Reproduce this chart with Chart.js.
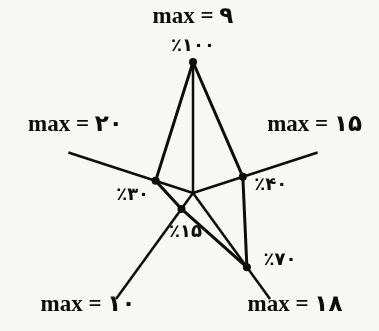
<!DOCTYPE html>
<html>
<head>
<meta charset="utf-8">
<script src="https://cdn.jsdelivr.net/npm/chart.js@4/dist/chart.umd.min.js"></script>
<style>
  html, body { margin: 0; padding: 0; background: #f7f7f5; }
  #wrap { width: 379px; height: 331px; }
</style>
</head>
<body>
<div id="wrap"><canvas id="radar" width="379" height="331"></canvas></div>
<script>
// axes, clockwise from the top
var axisLabels = ['max = ۹', 'max = ۱۵', 'max = ۱۸', 'max = ۱۰', 'max = ۲۰']
var percents = [100, 40, 70, 15, 30]
var percentLabels = ['٪۱۰۰', '٪۴۰', '٪۷۰', '٪۱۵', '٪۳۰']

// where the texts sit, relative to axis end / data point
var axisOffsets = [[0, -45], [-3, -27], [25, 6], [-28, 6], [7, -27]]
var valueOffsets = [[0, -16], [28, 9], [33, -7], [4, 23], [-23, 14]]

var textPlugin = {
  id: 'texts',
  beforeDraw: function (chart) {
    var ctx = chart.ctx
    ctx.save()
    ctx.fillStyle = '#f7f7f5'
    ctx.fillRect(0, 0, chart.width, chart.height)
    ctx.restore()
  },
  afterDraw: function (chart) {
    var ctx = chart.ctx
    var s = chart.scales.r
    ctx.save()
    ctx.fillStyle = '#0d0d0d'
    ctx.textAlign = 'center'
    ctx.textBaseline = 'middle'
    ctx.font = 'bold 23px "Liberation Serif", "DejaVu Sans", serif'
    chart.data.labels.forEach(function (t, i) {
      var p = s.getPointPosition(i, s.drawingArea)
      ctx.fillText(t, p.x + axisOffsets[i][0], p.y + axisOffsets[i][1])
    })
    ctx.font = 'bold 18px "DejaVu Sans", sans-serif'
    percents.forEach(function (v, i) {
      var p = s.getPointPositionForValue(i, v)
      ctx.fillText(percentLabels[i], p.x + valueOffsets[i][0], p.y + valueOffsets[i][1])
    })
    ctx.restore()
  }
}

new Chart(document.getElementById('radar'), {
  type: 'radar',
  data: {
    labels: axisLabels,
    datasets: [{
      data: percents,
      borderColor: '#0d0d0d',
      borderWidth: 3,
      backgroundColor: 'rgba(0,0,0,0)',
      fill: false,
      pointRadius: 4,
      pointBackgroundColor: '#0d0d0d',
      pointBorderWidth: 0
    }]
  },
  options: {
    responsive: false,
    animation: false,
    layout: { padding: { left: 62, right: 55, top: 62, bottom: 7 } },
    plugins: { legend: { display: false }, tooltip: { enabled: false } },
    scales: {
      r: {
        min: 0,
        max: 100,
        ticks: { display: false },
        grid: { display: false },
        angleLines: { color: '#0d0d0d', lineWidth: 2.5 },
        pointLabels: { display: false }
      }
    }
  },
  plugins: [textPlugin]
})
</script>
</body>
</html>
